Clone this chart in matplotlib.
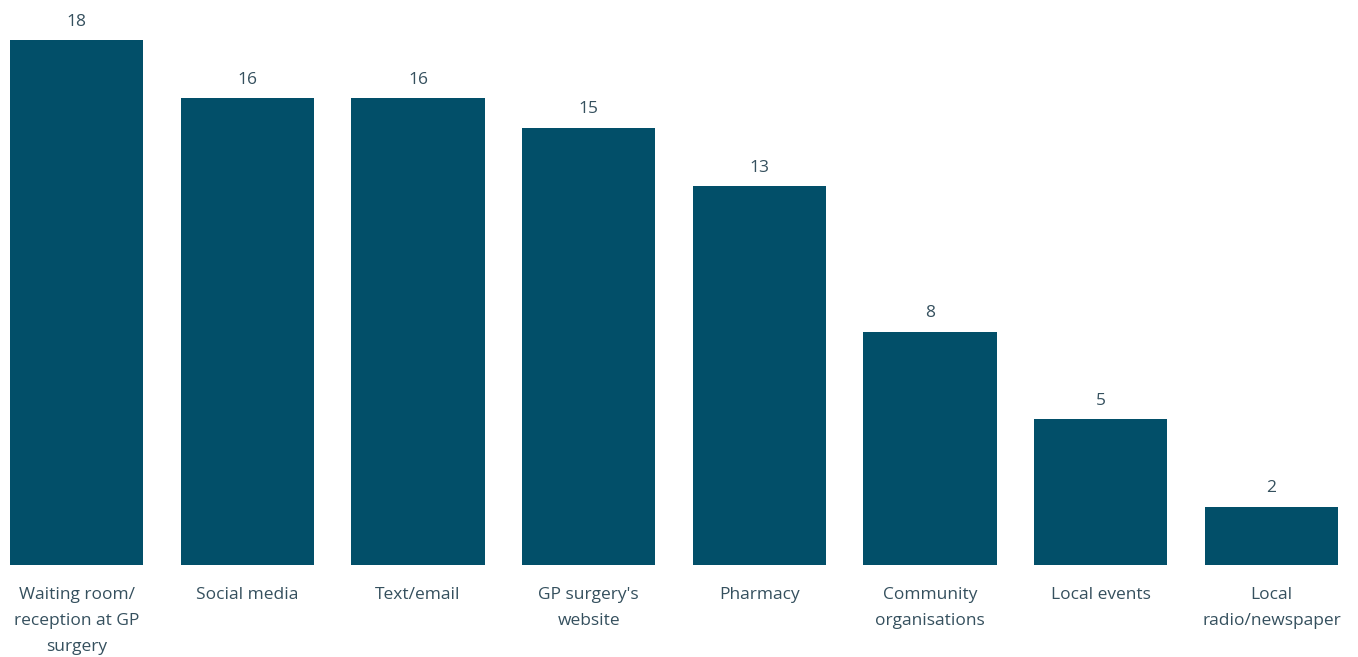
import numpy as np
import matplotlib.pyplot as plt

plt.rcParams['font.family'] = ['Open Sans', 'DejaVu Sans']

categories = ['Waiting room/\nreception at GP\nsurgery', 'Social media', 'Text/email',
              "GP surgery's\nwebsite", 'Pharmacy', 'Community\norganisations',
              'Local events', 'Local\nradio/newspaper']
counts = [18, 16, 16, 15, 13, 8, 5, 2]

bar_color = '#024f69'
text_color = '#35505e'

fig = plt.figure(figsize=(13.58, 6.57), dpi=100)
ax = fig.add_axes([10 / 1358, (657 - 565) / 657, 1328 / 1358, 525 / 657])

x = np.arange(len(categories))
bars = ax.bar(x, counts, width=0.78, color=bar_color)

for b, v in zip(bars, counts):
    ax.text(b.get_x() + b.get_width() / 2, v + 0.35, str(v), ha='center', va='bottom',
            fontsize=12.5, color=text_color)

ax.set_xlim(-0.39, len(categories) - 1 + 0.39)
ax.set_ylim(0, 18)
ax.set_xticks(x)
ax.set_xticklabels(categories, fontsize=12.5, color=text_color, linespacing=1.82)
ax.tick_params(axis='x', length=0, pad=16)
ax.set_yticks([])
for s in ax.spines.values():
    s.set_visible(False)

fig.savefig('out.png', dpi=100)
